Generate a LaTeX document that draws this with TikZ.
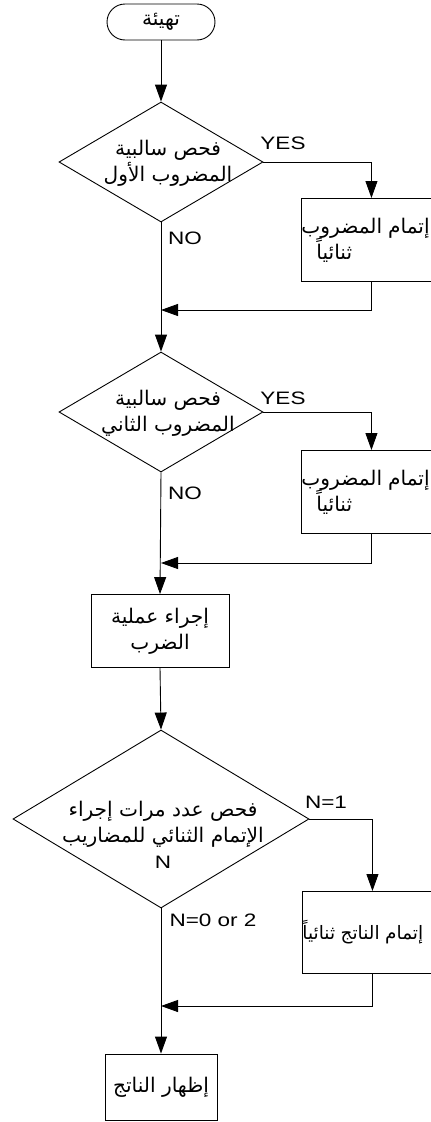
\documentclass[tikz,border=0pt]{standalone}
\usepackage{fontspec}
\setmainfont{Liberation Sans}[FakeStretch=1.25]
\newfontfamily\arabicfont[Script=Arabic,Scale=1.12]{DejaVu Sans}
\TeXXeTstate=1
\usetikzlibrary{shapes.geometric,arrows.meta}
\newcommand{\artxt}[1]{{\arabicfont\beginR #1\endR}}

\begin{document}
\begin{tikzpicture}[x=1pt,y=1pt,yscale=-1,xscale=1,
  font=\fontsize{18}{26}\selectfont,
  flowline/.style={line width=0.9pt},
  flowarrow/.style={flowline,-{Triangle[length=17pt,width=12pt]}},
  startbox/.style={draw,line width=0.9pt,rounded corners=18pt,minimum width=108pt,minimum height=36pt,inner sep=0pt},
  decision/.style={draw,line width=0.9pt,diamond,inner sep=0pt},
  procbox/.style={draw,line width=0.9pt,rectangle,inner sep=0pt,align=center},
  sidebox/.style={procbox,anchor=north west,text width=140pt,minimum height=83pt,align=left}]
\clip (0,0) rectangle (431,1122);

%Shape: Rounded Rect
\node[startbox] (start) at (161,22) {\artxt{تهيئة}};

%Shape: Diamond
\node[decision,minimum width=204pt,minimum height=120pt] (d1) at (161,162) {};
%Shape: Diamond
\node[decision,minimum width=204pt,minimum height=120pt] (d2) at (161,412) {};
%Shape: Diamond
\node[decision,minimum width=296pt,minimum height=178pt] (d3) at (161,819) {};

%Shape: Rectangle
\node[sidebox] (b1) at (301,198) {\artxt{إتمام المضروب}\\\hspace*{15pt}\artxt{ثنائياً}};
%Shape: Rectangle
\node[sidebox] (b2) at (301,450) {\artxt{إتمام المضروب}\\\hspace*{15pt}\artxt{ثنائياً}};
%Shape: Rectangle
\node[sidebox,minimum height=82pt,font=\fontsize{16.5}{24}\selectfont] (b3) at (302,891) {\artxt{إتمام الناتج ثنائياً}};
%Shape: Rectangle
\node[procbox,minimum width=138pt,minimum height=73pt] (calc) at (160,631) {\artxt{إجراء عملية}\\\artxt{الضرب}};
%Shape: Rectangle
\node[procbox,minimum width=112pt,minimum height=66pt] (show) at (161,1087) {\artxt{إظهار الناتج}};

\coordinate (j1) at (161,310);
\coordinate (j2) at (161,563);
\coordinate (j3) at (161,1006);

%Straight Lines
\draw[flowarrow] (start.south) -- (d1.north);
\draw[flowarrow] (d1.east) -| (b1.north);
\draw[flowarrow] (b1.south) |- (j1);
\draw[flowarrow] (d1.south) -- (d2.north);

\draw[flowarrow] (d2.east) -| (b2.north);
\draw[flowarrow] (b2.south) |- (j2);
\draw[flowarrow] (d2.south) -- (calc.north);

\draw[flowarrow] (calc.south) -- (d3.north);
\draw[flowarrow] (d3.east) -| (b3.north);
\draw[flowarrow] (b3.south) |- (j3);
\draw[flowarrow] (d3.south) -- (show.north);

% Text Node
\node[align=center] (d1txt) at (168,163) {\artxt{فحص سالبية}\\\artxt{المضروب الأول}};
% Text Node
\node[align=center] (d2txt) at (168,413) {\artxt{فحص سالبية}\\\artxt{المضروب الثاني}};
% Text Node
\node[align=center] (d3txt) at (163,835) {\artxt{فحص عدد مرات إجراء}\\\artxt{الإتمام الثنائي للمضاريب}\\N};
% Text Node
\node (yes1) at (283,143) {YES};
% Text Node
\node (no1) at (185,238) {NO};
% Text Node
\node (yes2) at (283,398) {YES};
% Text Node
\node (no2) at (185,493) {NO};
% Text Node
\node (n1) at (326,802) {N=1};
% Text Node
\node (n02) at (213,920) {N=0 or 2};

\end{tikzpicture}
\end{document}
